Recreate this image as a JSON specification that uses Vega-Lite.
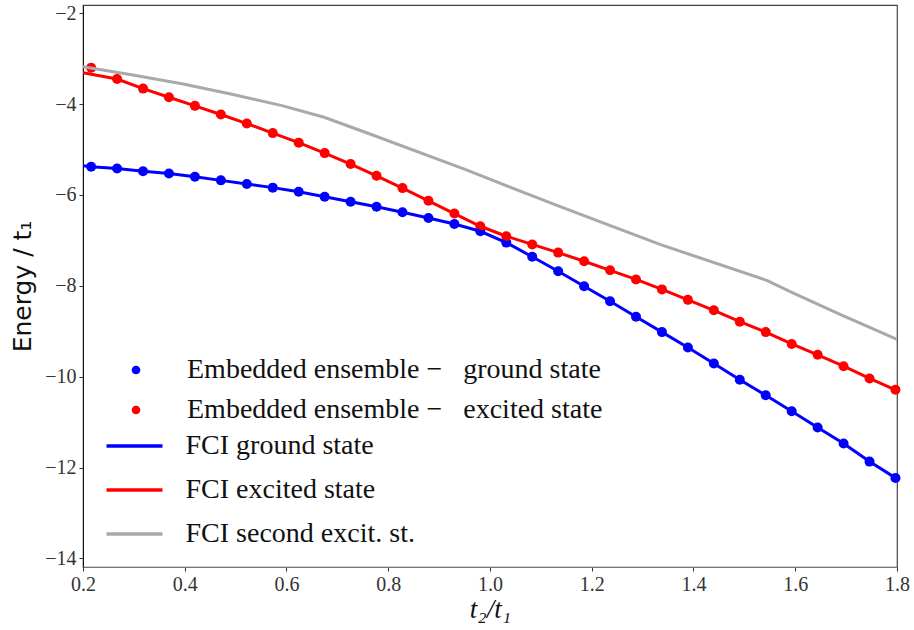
{
  "$schema": "https://vega.github.io/schema/vega-lite/v6.json",
  "width": 814,
  "height": 562,
  "autosize": {"type": "none"},
  "padding": {"left": 83, "top": 5, "right": 17, "bottom": 63},
  "background": "white",
  "config": {
    "view": {"stroke": "#444", "strokeWidth": 1.2},
    "axis": {
      "grid": false,
      "labelFont": "Liberation Serif",
      "labelFontSize": 20,
      "labelColor": "#333",
      "tickColor": "#333",
      "tickSize": 4,
      "labelPadding": 3
    }
  },
  "datasets": {
    "dots": [
      {"x": 0.216, "y": -5.38, "s": "Embedded ensemble − \u2002ground state"},
      {"x": 0.267, "y": -5.42, "s": "Embedded ensemble − \u2002ground state"},
      {"x": 0.318, "y": -5.48, "s": "Embedded ensemble − \u2002ground state"},
      {"x": 0.369, "y": -5.53, "s": "Embedded ensemble − \u2002ground state"},
      {"x": 0.420, "y": -5.60, "s": "Embedded ensemble − \u2002ground state"},
      {"x": 0.471, "y": -5.68, "s": "Embedded ensemble − \u2002ground state"},
      {"x": 0.522, "y": -5.76, "s": "Embedded ensemble − \u2002ground state"},
      {"x": 0.573, "y": -5.84, "s": "Embedded ensemble − \u2002ground state"},
      {"x": 0.624, "y": -5.93, "s": "Embedded ensemble − \u2002ground state"},
      {"x": 0.675, "y": -6.04, "s": "Embedded ensemble − \u2002ground state"},
      {"x": 0.726, "y": -6.15, "s": "Embedded ensemble − \u2002ground state"},
      {"x": 0.777, "y": -6.26, "s": "Embedded ensemble − \u2002ground state"},
      {"x": 0.828, "y": -6.38, "s": "Embedded ensemble − \u2002ground state"},
      {"x": 0.879, "y": -6.51, "s": "Embedded ensemble − \u2002ground state"},
      {"x": 0.930, "y": -6.64, "s": "Embedded ensemble − \u2002ground state"},
      {"x": 0.981, "y": -6.80, "s": "Embedded ensemble − \u2002ground state"},
      {"x": 1.032, "y": -7.05, "s": "Embedded ensemble − \u2002ground state"},
      {"x": 1.083, "y": -7.36, "s": "Embedded ensemble − \u2002ground state"},
      {"x": 1.134, "y": -7.68, "s": "Embedded ensemble − \u2002ground state"},
      {"x": 1.185, "y": -8.01, "s": "Embedded ensemble − \u2002ground state"},
      {"x": 1.236, "y": -8.34, "s": "Embedded ensemble − \u2002ground state"},
      {"x": 1.287, "y": -8.68, "s": "Embedded ensemble − \u2002ground state"},
      {"x": 1.338, "y": -9.02, "s": "Embedded ensemble − \u2002ground state"},
      {"x": 1.389, "y": -9.36, "s": "Embedded ensemble − \u2002ground state"},
      {"x": 1.440, "y": -9.71, "s": "Embedded ensemble − \u2002ground state"},
      {"x": 1.491, "y": -10.07, "s": "Embedded ensemble − \u2002ground state"},
      {"x": 1.542, "y": -10.41, "s": "Embedded ensemble − \u2002ground state"},
      {"x": 1.593, "y": -10.76, "s": "Embedded ensemble − \u2002ground state"},
      {"x": 1.644, "y": -11.12, "s": "Embedded ensemble − \u2002ground state"},
      {"x": 1.695, "y": -11.47, "s": "Embedded ensemble − \u2002ground state"},
      {"x": 1.746, "y": -11.87, "s": "Embedded ensemble − \u2002ground state"},
      {"x": 1.797, "y": -12.23, "s": "Embedded ensemble − \u2002ground state"},
      {"x": 0.216, "y": -3.20, "s": "Embedded ensemble − \u2002excited state"},
      {"x": 0.267, "y": -3.45, "s": "Embedded ensemble − \u2002excited state"},
      {"x": 0.318, "y": -3.66, "s": "Embedded ensemble − \u2002excited state"},
      {"x": 0.369, "y": -3.85, "s": "Embedded ensemble − \u2002excited state"},
      {"x": 0.420, "y": -4.04, "s": "Embedded ensemble − \u2002excited state"},
      {"x": 0.471, "y": -4.23, "s": "Embedded ensemble − \u2002excited state"},
      {"x": 0.522, "y": -4.43, "s": "Embedded ensemble − \u2002excited state"},
      {"x": 0.573, "y": -4.64, "s": "Embedded ensemble − \u2002excited state"},
      {"x": 0.624, "y": -4.85, "s": "Embedded ensemble − \u2002excited state"},
      {"x": 0.675, "y": -5.08, "s": "Embedded ensemble − \u2002excited state"},
      {"x": 0.726, "y": -5.32, "s": "Embedded ensemble − \u2002excited state"},
      {"x": 0.777, "y": -5.58, "s": "Embedded ensemble − \u2002excited state"},
      {"x": 0.828, "y": -5.85, "s": "Embedded ensemble − \u2002excited state"},
      {"x": 0.879, "y": -6.13, "s": "Embedded ensemble − \u2002excited state"},
      {"x": 0.930, "y": -6.41, "s": "Embedded ensemble − \u2002excited state"},
      {"x": 0.981, "y": -6.69, "s": "Embedded ensemble − \u2002excited state"},
      {"x": 1.032, "y": -6.91, "s": "Embedded ensemble − \u2002excited state"},
      {"x": 1.083, "y": -7.09, "s": "Embedded ensemble − \u2002excited state"},
      {"x": 1.134, "y": -7.27, "s": "Embedded ensemble − \u2002excited state"},
      {"x": 1.185, "y": -7.46, "s": "Embedded ensemble − \u2002excited state"},
      {"x": 1.236, "y": -7.66, "s": "Embedded ensemble − \u2002excited state"},
      {"x": 1.287, "y": -7.86, "s": "Embedded ensemble − \u2002excited state"},
      {"x": 1.338, "y": -8.08, "s": "Embedded ensemble − \u2002excited state"},
      {"x": 1.389, "y": -8.31, "s": "Embedded ensemble − \u2002excited state"},
      {"x": 1.440, "y": -8.54, "s": "Embedded ensemble − \u2002excited state"},
      {"x": 1.491, "y": -8.79, "s": "Embedded ensemble − \u2002excited state"},
      {"x": 1.542, "y": -9.02, "s": "Embedded ensemble − \u2002excited state"},
      {"x": 1.593, "y": -9.28, "s": "Embedded ensemble − \u2002excited state"},
      {"x": 1.644, "y": -9.52, "s": "Embedded ensemble − \u2002excited state"},
      {"x": 1.695, "y": -9.77, "s": "Embedded ensemble − \u2002excited state"},
      {"x": 1.746, "y": -10.04, "s": "Embedded ensemble − \u2002excited state"},
      {"x": 1.797, "y": -10.29, "s": "Embedded ensemble − \u2002excited state"}
    ],
    "fci": [
      {"x": 0.2, "y": -5.36, "f": "FCI ground state"},
      {"x": 0.216, "y": -5.38, "f": "FCI ground state"},
      {"x": 0.267, "y": -5.42, "f": "FCI ground state"},
      {"x": 0.318, "y": -5.48, "f": "FCI ground state"},
      {"x": 0.369, "y": -5.53, "f": "FCI ground state"},
      {"x": 0.420, "y": -5.60, "f": "FCI ground state"},
      {"x": 0.471, "y": -5.68, "f": "FCI ground state"},
      {"x": 0.522, "y": -5.76, "f": "FCI ground state"},
      {"x": 0.573, "y": -5.84, "f": "FCI ground state"},
      {"x": 0.624, "y": -5.93, "f": "FCI ground state"},
      {"x": 0.675, "y": -6.04, "f": "FCI ground state"},
      {"x": 0.726, "y": -6.15, "f": "FCI ground state"},
      {"x": 0.777, "y": -6.26, "f": "FCI ground state"},
      {"x": 0.828, "y": -6.38, "f": "FCI ground state"},
      {"x": 0.879, "y": -6.51, "f": "FCI ground state"},
      {"x": 0.930, "y": -6.64, "f": "FCI ground state"},
      {"x": 0.981, "y": -6.80, "f": "FCI ground state"},
      {"x": 1.032, "y": -7.05, "f": "FCI ground state"},
      {"x": 1.083, "y": -7.36, "f": "FCI ground state"},
      {"x": 1.134, "y": -7.68, "f": "FCI ground state"},
      {"x": 1.185, "y": -8.01, "f": "FCI ground state"},
      {"x": 1.236, "y": -8.34, "f": "FCI ground state"},
      {"x": 1.287, "y": -8.68, "f": "FCI ground state"},
      {"x": 1.338, "y": -9.02, "f": "FCI ground state"},
      {"x": 1.389, "y": -9.36, "f": "FCI ground state"},
      {"x": 1.440, "y": -9.71, "f": "FCI ground state"},
      {"x": 1.491, "y": -10.07, "f": "FCI ground state"},
      {"x": 1.542, "y": -10.41, "f": "FCI ground state"},
      {"x": 1.593, "y": -10.76, "f": "FCI ground state"},
      {"x": 1.644, "y": -11.12, "f": "FCI ground state"},
      {"x": 1.695, "y": -11.47, "f": "FCI ground state"},
      {"x": 1.746, "y": -11.87, "f": "FCI ground state"},
      {"x": 1.8, "y": -12.25, "f": "FCI ground state"},
      {"x": 0.2, "y": -3.31, "f": "FCI excited state"},
      {"x": 0.267, "y": -3.45, "f": "FCI excited state"},
      {"x": 0.318, "y": -3.66, "f": "FCI excited state"},
      {"x": 0.369, "y": -3.85, "f": "FCI excited state"},
      {"x": 0.420, "y": -4.04, "f": "FCI excited state"},
      {"x": 0.471, "y": -4.23, "f": "FCI excited state"},
      {"x": 0.522, "y": -4.43, "f": "FCI excited state"},
      {"x": 0.573, "y": -4.64, "f": "FCI excited state"},
      {"x": 0.624, "y": -4.85, "f": "FCI excited state"},
      {"x": 0.675, "y": -5.08, "f": "FCI excited state"},
      {"x": 0.726, "y": -5.32, "f": "FCI excited state"},
      {"x": 0.777, "y": -5.58, "f": "FCI excited state"},
      {"x": 0.828, "y": -5.85, "f": "FCI excited state"},
      {"x": 0.879, "y": -6.13, "f": "FCI excited state"},
      {"x": 0.930, "y": -6.41, "f": "FCI excited state"},
      {"x": 0.981, "y": -6.69, "f": "FCI excited state"},
      {"x": 1.032, "y": -6.91, "f": "FCI excited state"},
      {"x": 1.083, "y": -7.09, "f": "FCI excited state"},
      {"x": 1.134, "y": -7.27, "f": "FCI excited state"},
      {"x": 1.185, "y": -7.46, "f": "FCI excited state"},
      {"x": 1.236, "y": -7.66, "f": "FCI excited state"},
      {"x": 1.287, "y": -7.86, "f": "FCI excited state"},
      {"x": 1.338, "y": -8.08, "f": "FCI excited state"},
      {"x": 1.389, "y": -8.31, "f": "FCI excited state"},
      {"x": 1.440, "y": -8.54, "f": "FCI excited state"},
      {"x": 1.491, "y": -8.79, "f": "FCI excited state"},
      {"x": 1.542, "y": -9.02, "f": "FCI excited state"},
      {"x": 1.593, "y": -9.28, "f": "FCI excited state"},
      {"x": 1.644, "y": -9.52, "f": "FCI excited state"},
      {"x": 1.695, "y": -9.77, "f": "FCI excited state"},
      {"x": 1.746, "y": -10.04, "f": "FCI excited state"},
      {"x": 1.8, "y": -10.31, "f": "FCI excited state"},
      {"x": 0.2, "y": -3.18, "f": "FCI second excit. st."},
      {"x": 0.298, "y": -3.36, "f": "FCI second excit. st."},
      {"x": 0.397, "y": -3.56, "f": "FCI second excit. st."},
      {"x": 0.495, "y": -3.79, "f": "FCI second excit. st."},
      {"x": 0.593, "y": -4.04, "f": "FCI second excit. st."},
      {"x": 0.674, "y": -4.29, "f": "FCI second excit. st."},
      {"x": 0.764, "y": -4.66, "f": "FCI second excit. st."},
      {"x": 0.951, "y": -5.44, "f": "FCI second excit. st."},
      {"x": 1.138, "y": -6.26, "f": "FCI second excit. st."},
      {"x": 1.334, "y": -7.09, "f": "FCI second excit. st."},
      {"x": 1.544, "y": -7.88, "f": "FCI second excit. st."},
      {"x": 1.590, "y": -8.13, "f": "FCI second excit. st."},
      {"x": 1.688, "y": -8.63, "f": "FCI second excit. st."},
      {"x": 1.8, "y": -9.18, "f": "FCI second excit. st."}
    ]
  },
  "encoding": {
    "x": {
      "field": "x",
      "type": "quantitative",
      "scale": {"domain": [0.2, 1.8], "nice": false, "zero": false},
      "axis": {
        "values": [0.2, 0.4, 0.6, 0.8, 1.0, 1.2, 1.4, 1.6, 1.8],
        "format": ".1f",
        "title": "t₂/t₁",
        "titleFont": "Liberation Serif",
        "titleFontStyle": "italic",
        "titleFontWeight": "normal",
        "titleFontSize": 27,
        "titleColor": "#111",
        "titleX": 407,
        "titleY": 42,
        "titleBaseline": "middle",
        "titleAnchor": "middle",
        "domainColor": "#777",
        "labelFlush": false
      }
    },
    "y": {
      "field": "y",
      "type": "quantitative",
      "scale": {"domain": [-14.19, -1.82], "nice": false, "zero": false},
      "axis": {
        "values": [-14, -12, -10, -8, -6, -4, -2],
        "format": "d",
        "title": "Energy / t₁",
        "titleFont": "DejaVu Sans",
        "titleFontWeight": "normal",
        "titleFontSize": 25,
        "titleColor": "#111",
        "titleAngle": -90,
        "titleX": -61,
        "titleY": 281,
        "titleBaseline": "middle",
        "titleAlign": "center",
        "domainColor": "#111",
        "labelFlush": false
      }
    }
  },
  "layer": [
    {
      "data": {"name": "dots"},
      "mark": {"type": "circle", "size": 100, "opacity": 1},
      "encoding": {
        "fill": {
          "field": "s",
          "type": "nominal",
          "scale": {
            "domain": ["Embedded ensemble − \u2002ground state", "Embedded ensemble − \u2002excited state"],
            "range": ["#0000ff", "#ff0000"]
          },
          "legend": {
            "title": null,
            "orient": "none",
            "legendX": 39,
            "legendY": 351,
            "padding": 0,
            "symbolType": "circle",
            "symbolSize": 75,
            "symbolStrokeWidth": 0,
            "labelFont": "Liberation Serif",
            "labelFontSize": 28,
            "labelColor": "#111",
            "labelOffset": 37,
            "rowPadding": 12,
            "labelLimit": 700
          }
        }
      }
    },
    {
      "data": {"name": "fci"},
      "mark": {"type": "line", "strokeWidth": 3},
      "encoding": {
        "stroke": {
          "field": "f",
          "type": "nominal",
          "scale": {
            "domain": ["FCI ground state", "FCI excited state", "FCI second excit. st."],
            "range": ["#0000ff", "#ff0000", "#a9a9a9"]
          },
          "legend": {
            "title": null,
            "orient": "none",
            "legendX": 21.5,
            "legendY": 411,
            "padding": 0,
            "symbolType": "stroke",
            "symbolSize": 3136,
            "symbolStrokeWidth": 3.5,
            "labelFont": "Liberation Serif",
            "labelFontSize": 28,
            "labelColor": "#111",
            "labelOffset": 21,
            "rowPadding": 0,
            "labelLimit": 700
          }
        }
      }
    }
  ]
}
